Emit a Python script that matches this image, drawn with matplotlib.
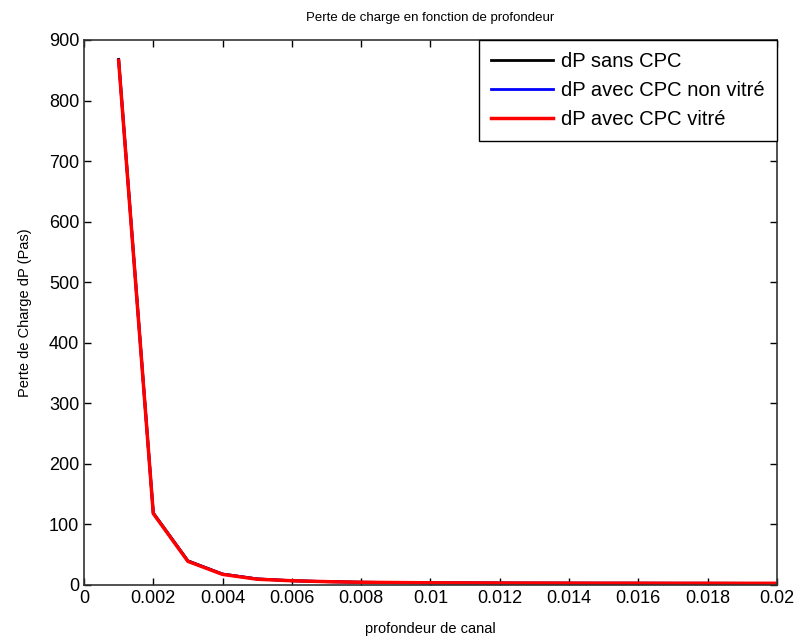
import matplotlib
matplotlib.use("Agg")
import matplotlib.pyplot as plt

plt.rcParams["font.family"] = ["Liberation Sans", "DejaVu Sans"]

# profondeur de canal (m) and pressure drop (Pa)
depth = [0.001, 0.002, 0.003, 0.004, 0.005, 0.006, 0.007, 0.008, 0.009, 0.010,
         0.011, 0.012, 0.013, 0.014, 0.015, 0.016, 0.017, 0.018, 0.019, 0.020]
dp_sans = [868, 119, 40, 18, 10, 7, 5.5, 4.5, 4, 3.6,
           3.4, 3.2, 3.1, 3.0, 2.9, 2.9, 2.8, 2.8, 2.7, 2.7]
dp_non_vitre = [867, 118.5, 39.5, 18, 10, 7, 5.5, 4.5, 4, 3.6,
                3.4, 3.2, 3.1, 3.0, 2.9, 2.9, 2.8, 2.8, 2.7, 2.7]
dp_vitre = [866, 118, 39, 17.5, 9.5, 7, 5.5, 4.5, 4, 3.6,
            3.4, 3.2, 3.1, 3.0, 2.9, 2.9, 2.8, 2.8, 2.7, 2.7]
labels = ["dP sans CPC", "dP avec CPC non vitré", "dP avec CPC vitré"]
xticks = [0, 0.002, 0.004, 0.006, 0.008, 0.01, 0.012, 0.014, 0.016, 0.018, 0.02]
xticklabels = ["0", "0.002", "0.004", "0.006", "0.008", "0.01", "0.012",
               "0.014", "0.016", "0.018", "0.02"]

fig = plt.figure(figsize=(8, 6.41), dpi=100)
ax = fig.add_axes([0.105, 0.0874, 0.866, 0.8502])

ax.plot(depth, dp_sans, color="black", linewidth=2, label=labels[0])
ax.plot(depth, dp_non_vitre, color="blue", linewidth=2, label=labels[1])
ax.plot(depth, dp_vitre, color="red", linewidth=2.5, label=labels[2])

ax.set_xlim(0, 0.02)
ax.set_ylim(0, 900)
ax.set_xticks(xticks)
ax.set_xticklabels(xticklabels)
ax.set_yticks(range(0, 901, 100))
ax.tick_params(direction="in", top=True, right=True, length=5, width=1,
               labelsize=13, colors="black")
for s in ax.spines.values():
    s.set_linewidth(1.2)
    s.set_color("#333333")

ax.set_title("Perte de charge en fonction de profondeur", fontsize=9.5, pad=14)
ax.set_xlabel("profondeur de canal", fontsize=10.5, labelpad=11)
ax.set_ylabel("Perte de Charge dP (Pas)", fontsize=10.5, labelpad=12)

leg = ax.legend(loc="upper right", fontsize=14.5, fancybox=False, framealpha=1,
                edgecolor="black", borderaxespad=0, handlelength=3.1,
                handletextpad=0.4, labelspacing=0.5, borderpad=0.6)
leg.get_frame().set_linewidth(1)

fig.savefig("out.png", dpi=100)
